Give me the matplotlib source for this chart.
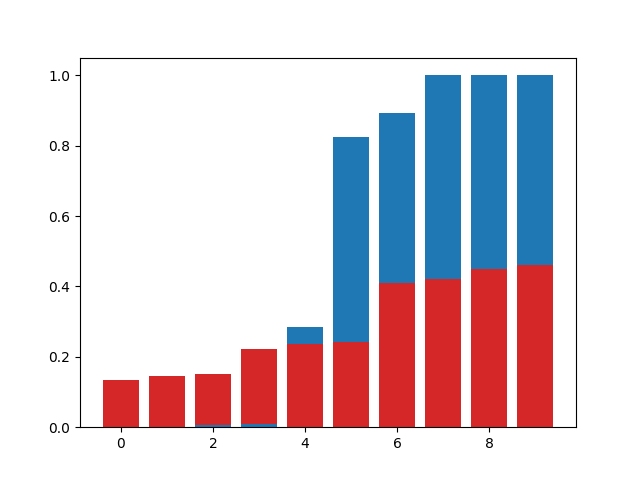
import matplotlib
matplotlib.use('Agg')
import matplotlib.pyplot as plt

x = list(range(10))
blue_vals = [0.0, 0.0, 0.0057, 0.0090, 0.284, 0.824, 0.892, 1.0, 1.0, 1.0]
red_tops = [0.1335, 0.145, 0.1506, 0.2216, 0.2367, 0.2424, 0.409, 0.420, 0.449, 0.460]
# red sits on the blue sliver where blue is tiny
red_bottom = [0.0, 0.0, 0.0057, 0.0090, 0.0, 0.0, 0.0, 0.0, 0.0, 0.0]

red_heights = [t - b for t, b in zip(red_tops, red_bottom)]

fig, ax = plt.subplots(figsize=(6.4, 4.8), dpi=100)
ax.bar(x, blue_vals, color='tab:blue')
ax.bar(x, red_heights, bottom=red_bottom, color='tab:red')
plt.savefig('out.png')
